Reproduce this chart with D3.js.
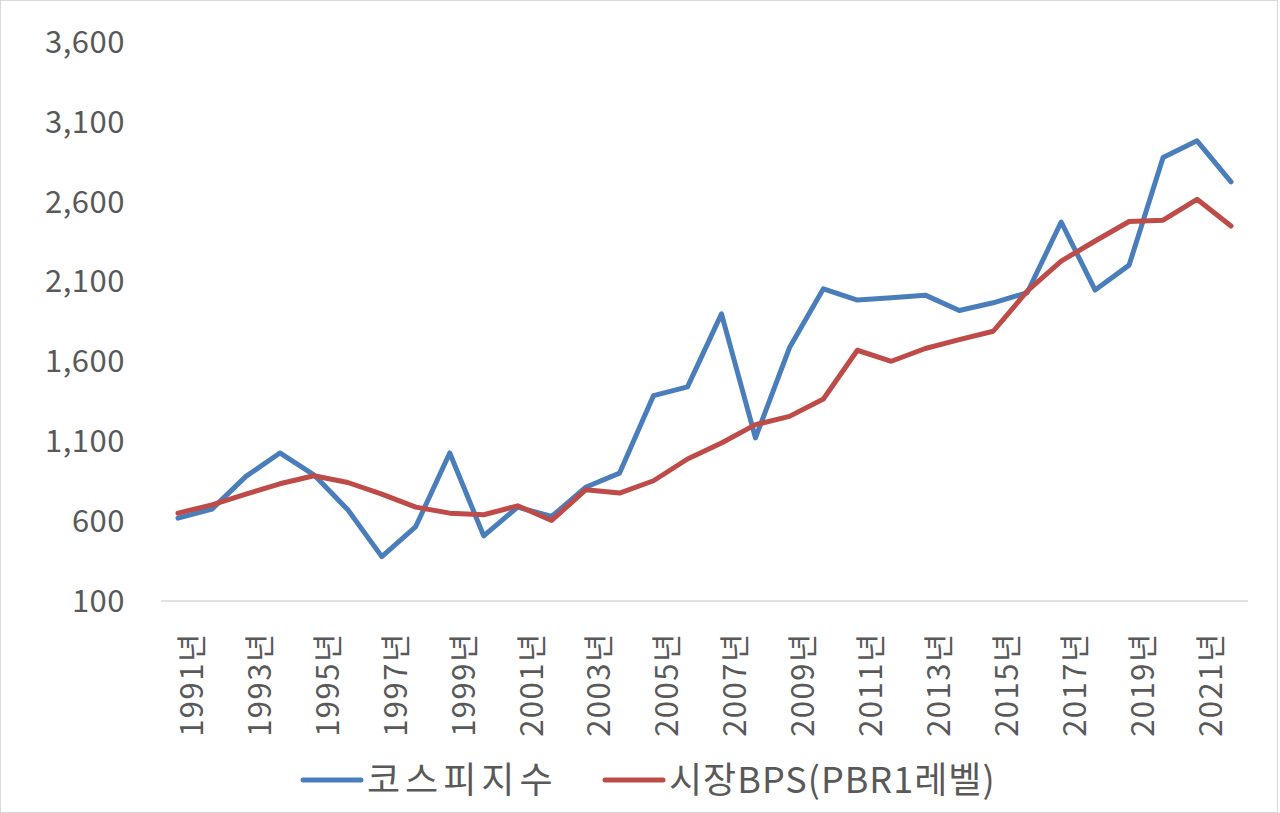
<!DOCTYPE html>
<html>
<head>
<meta charset="utf-8">
<script src="https://cdn.jsdelivr.net/npm/d3@7"></script>
<style>
  body { margin: 0; background: #fff; }
  text { font-family: "Noto Sans CJK KR", "Noto Sans", sans-serif; fill: #595959; }
</style>
</head>
<body>
<div id="chartArea"></div>
<script>
// years on the category axis
var years = d3.range(1991, 2023);

// 코스피지수 (year-end)
var kospi = [619, 675, 880, 1027, 890, 671, 378, 566, 1027, 508,
             688, 629, 812, 901, 1386, 1441, 1898, 1121, 1685, 2055,
             1984, 1999, 2015, 1919, 1967, 2030, 2473, 2047, 2203, 2877,
             2981, 2724];

// 시장BPS (PBR 1 level)
var bps = [650, 702, 769, 834, 884, 842, 769, 688, 650, 640,
           696, 604, 796, 776, 853, 989, 1089, 1204, 1256, 1365,
           1670, 1601, 1681, 1737, 1789, 2040, 2228, 2354, 2476, 2484,
           2615, 2448];

var yTicks = [100, 600, 1100, 1600, 2100, 2600, 3100, 3600];

var seriesNames = ['코스피지수', '시장BPS(PBR1레벨)'];
var seriesColors = ['#4a7ebb', '#be4b48'];

var W = 1280, H = 813;
var plot = {left: 161, right: 1248, top: 42, bottom: 601};

var svg = d3.select('#chartArea').append('svg')
    .attr('width', W)
    .attr('height', H);

// outer frame
svg.append('rect')
    .attr('x', 0.5).attr('y', 0.5)
    .attr('width', W - 3).attr('height', H - 1)
    .attr('fill', '#fff')
    .attr('stroke', '#d9d9d9');

var xScale = d3.scaleBand()
    .domain(years)
    .range([plot.left, plot.right]);

var yScale = d3.scaleLinear()
    .domain([100, 3600])
    .range([plot.bottom, plot.top]);

// y labels
svg.selectAll('.ylab')
    .data(yTicks)
    .enter()
    .append('text')
    .attr('class', 'ylab')
    .attr('x', 125)
    .attr('y', function (d) { return yScale(d); })
    .attr('dy', '0.35em')
    .attr('text-anchor', 'end')
    .style('font-size', '31px')
    .style('letter-spacing', '0.5px')
    .text(d3.format(','));

// category axis line
svg.append('line')
    .attr('x1', plot.left).attr('x2', plot.right)
    .attr('y1', yScale(100)).attr('y2', yScale(100))
    .attr('stroke', '#d9d9d9')
    .attr('stroke-width', 1.5);

// x labels, every other year
svg.selectAll('.xlab')
    .data(years.filter(function (d, i) { return i % 2 === 0; }))
    .enter()
    .append('text')
    .attr('class', 'xlab')
    .attr('transform', function (d) {
        var cx = xScale(d) + xScale.bandwidth() / 2;
        return 'translate(' + (cx + 14) + ',632) rotate(-90)';
    })
    .attr('dy', '0.35em')
    .attr('text-anchor', 'end')
    .style('font-size', '31px')
    .style('letter-spacing', '1.5px')
    .text(function (d) { return d + '년'; });

var line = d3.line()
    .x(function (d, i) { return xScale(years[i]) + xScale.bandwidth() / 2; })
    .y(function (d) { return yScale(d); });

[kospi, bps].forEach(function (s, k) {
    svg.append('path')
        .datum(s)
        .attr('d', line)
        .attr('fill', 'none')
        .attr('stroke', seriesColors[k])
        .attr('stroke-width', 5)
        .attr('stroke-linejoin', 'round')
        .attr('stroke-linecap', 'round');
});

// legend
var legendX = [303, 605];
var legendSpacing = ['5px', '1px'];
var legend = svg.selectAll('.legend')
    .data(seriesNames)
    .enter()
    .append('g')
    .attr('class', 'legend')
    .attr('transform', function (d, i) { return 'translate(' + legendX[i] + ',780)'; });

legend.append('line')
    .attr('x1', 0).attr('x2', 58)
    .attr('stroke', function (d, i) { return seriesColors[i]; })
    .attr('stroke-width', 5)
    .attr('stroke-linecap', 'round');

legend.append('text')
    .attr('x', 64)
    .attr('dy', '0.35em')
    .style('font-size', '36px')
    .style('letter-spacing', function (d, i) { return legendSpacing[i]; })
    .text(function (d) { return d; });
</script>
</body>
</html>
